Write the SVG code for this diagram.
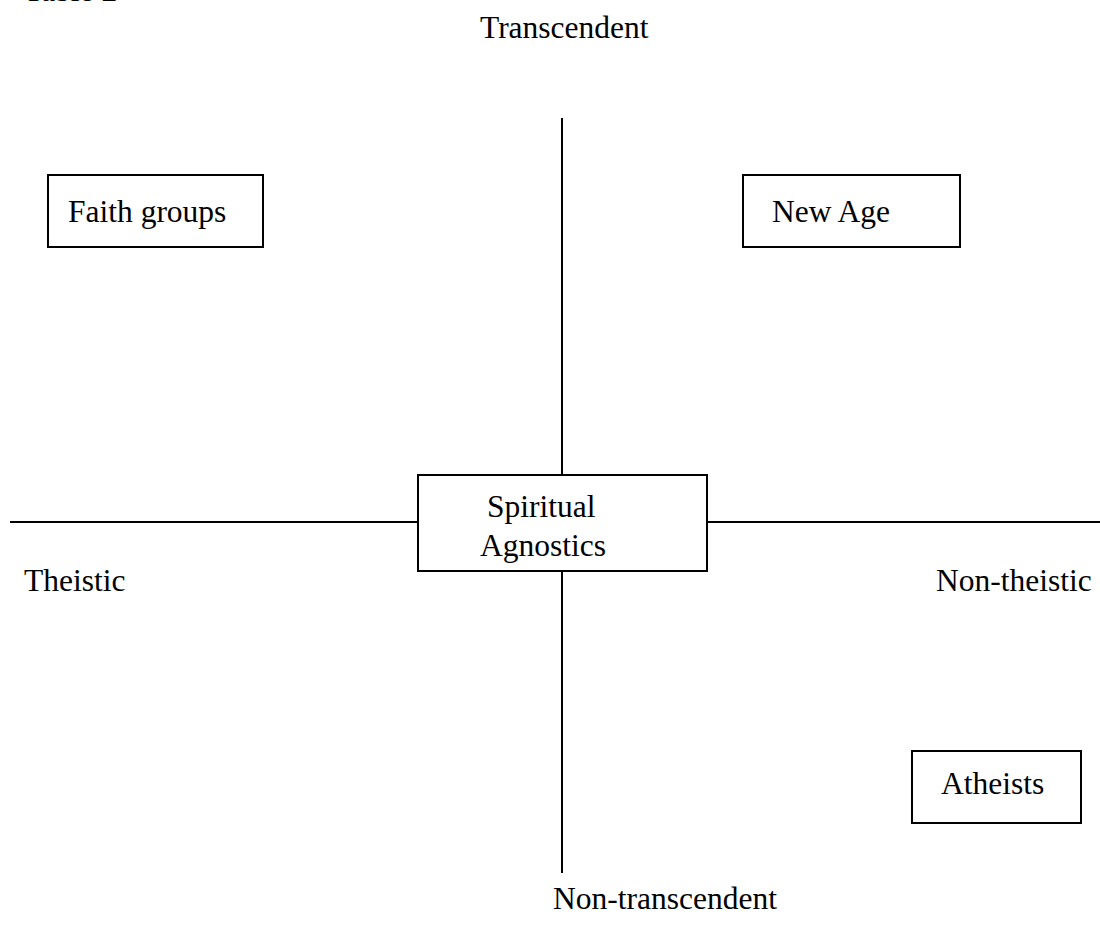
<svg xmlns="http://www.w3.org/2000/svg" width="1100" height="940" viewBox="0 0 1100 940">
<style>
text{font-family:"Liberation Serif","Times New Roman",serif;font-size:31.5px;fill:#000}
.box{fill:#fff;stroke:#000;stroke-width:2}
.axis{stroke:#000;stroke-width:2;fill:none}
</style>
<rect width="1100" height="940" fill="#fff"/>
<text x="24" y="1">Table 2</text>
<g id="connectors">
<line class="axis" x1="562" y1="118" x2="562" y2="475"/>
<line class="axis" x1="562" y1="571" x2="562" y2="873"/>
<line class="axis" x1="10" y1="522" x2="418" y2="522"/>
<line class="axis" x1="707" y1="522" x2="1100" y2="522"/>
</g>
<g id="label-transcendent"><text x="480" y="38">Transcendent</text></g>
<g id="label-theistic"><text x="24" y="591">Theistic</text></g>
<g id="label-nontheistic"><text x="936" y="591">Non-theistic</text></g>
<g id="label-nontranscendent"><text x="553" y="909">Non-transcendent</text></g>
<g id="node-faith"><rect class="box" x="48" y="175" width="215" height="72"/><text x="68" y="222">Faith groups</text></g>
<g id="node-newage"><rect class="box" x="743" y="175" width="217" height="72"/><text x="772" y="222">New Age</text></g>
<g id="node-spiritual"><rect class="box" x="418" y="475" width="289" height="96"/><text x="487" y="517">Spiritual</text><text x="480" y="556">Agnostics</text></g>
<g id="node-atheists"><rect class="box" x="912" y="751" width="169" height="72"/><text x="941" y="794">Atheists</text></g>
</svg>
